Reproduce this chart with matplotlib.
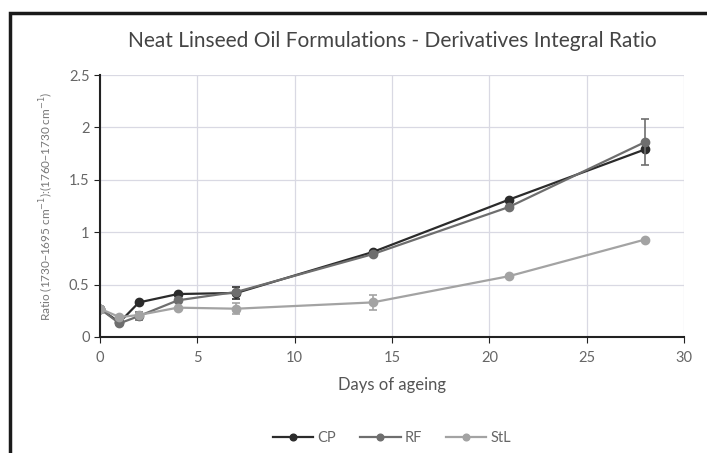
import numpy as np
import matplotlib.pyplot as plt
from matplotlib.patches import Rectangle

plt.rcParams['font.family'] = ['Lato', 'DejaVu Sans']

days = [0, 1, 2, 4, 7, 14, 21, 28]
cp = [0.27, 0.14, 0.33, 0.41, 0.42, 0.81, 1.31, 1.79]
rf = [0.27, 0.13, 0.20, 0.35, 0.43, 0.79, 1.24, 1.86]
stl = [0.27, 0.19, 0.21, 0.28, 0.27, 0.33, 0.58, 0.93]

# error bars (only a few visible in the original)
cp_err = [0, 0, 0, 0, 0.06, 0, 0, 0]
rf_err = [0, 0, 0.04, 0, 0, 0, 0, 0.22]
stl_err = [0, 0, 0, 0, 0.05, 0.07, 0, 0]

fig = plt.figure(figsize=(7.07, 4.53), dpi=100)
fig.patches.append(Rectangle((10/707, -0.1), 1.2, 1 - 13/453 + 0.1,
                             transform=fig.transFigure, fill=False,
                             edgecolor='#1a1a1a', linewidth=2.5))

ax = fig.add_axes([100/707, 1 - 337/453, 584/707, 262/453])

series = [("CP", cp, cp_err, '#2b2b2b'),
          ("RF", rf, rf_err, '#6e6e6e'),
          ("StL", stl, stl_err, '#a3a3a3')]
for name, vals, err, col in series:
    ax.plot(days, vals, '-o', color=col, lw=1.6, ms=6, label=name)
    e = np.array(err)
    m = e > 0
    ax.errorbar(np.array(days)[m], np.array(vals)[m], yerr=e[m], fmt='none',
                ecolor=col, elinewidth=1.2, capsize=3, capthick=1.2)

ax.set_xlim(0, 30)
ax.set_ylim(0, 2.5)
ax.set_xticks([0, 5, 10, 15, 20, 25, 30])
ax.set_yticks([0, 0.5, 1, 1.5, 2, 2.5])
ax.set_yticklabels(['0', '0.5', '1', '1.5', '2', '2.5'])
ax.grid(True, color='#d9d9e3', lw=0.9)
ax.set_axisbelow(True)
for s in ['top', 'right']:
    ax.spines[s].set_visible(False)
for s in ['left', 'bottom']:
    ax.spines[s].set_color('#222222')
    ax.spines[s].set_linewidth(1.5)
ax.tick_params(direction='out', length=4, colors='#222222', labelcolor='#666666',
               labelsize=10.5)
ax.tick_params(axis='x', pad=6)

ax.set_title("Neat Linseed Oil Formulations - Derivatives Integral Ratio",
             fontsize=15, color='#444444', pad=20)
ax.set_xlabel("Days of ageing", fontsize=12, color='#555555', labelpad=9)
ax.set_ylabel(r"Ratio (1730–1695 cm$^{-1}$):(1760–1730 cm$^{-1}$)",
              fontsize=8.5, color='#777777', labelpad=9)

ax.legend(loc='upper center', bbox_to_anchor=(0.5, -0.31), ncol=3,
          frameon=False, fontsize=10.5, handlelength=2.8, columnspacing=1.6,
          handletextpad=0.3, labelcolor='#666666', markerscale=0.8)

fig.savefig("out.png", dpi=100)
